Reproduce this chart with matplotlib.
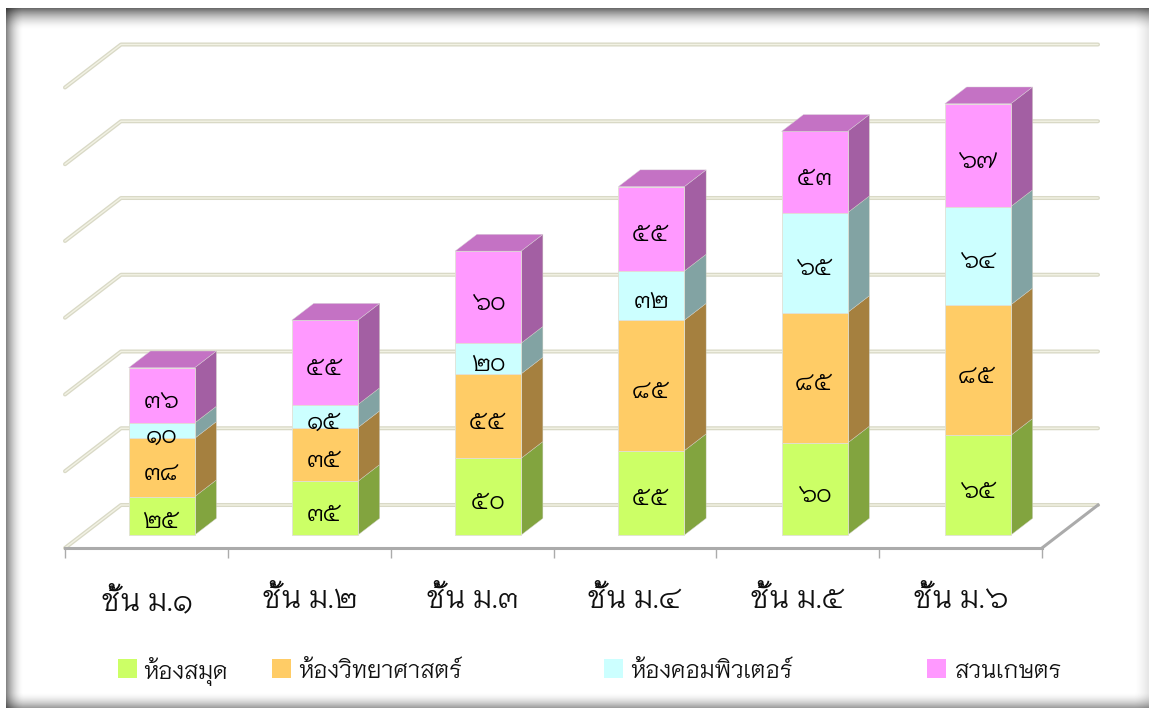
import numpy as np
import matplotlib
matplotlib.use('Agg')
import matplotlib.pyplot as plt
from matplotlib.patches import Polygon, Rectangle

plt.rcParams['font.family'] = ['Niramit', 'Noto Sans Thai Looped', 'DejaVu Sans']
plt.rcParams['font.weight'] = 300

W, H = 1149, 711

# data
categories = ['ชั้น ม.๑', 'ชั้น ม.๒', 'ชั้น ม.๓', 'ชั้น ม.๔', 'ชั้น ม.๕', 'ชั้น ม.๖']
library = [25, 35, 50, 55, 60, 65]
science = [38, 35, 55, 85, 85, 85]
computer = [10, 15, 20, 32, 65, 64]
garden = [36, 55, 60, 55, 53, 67]
series_names = ['ห้องสมุด', 'ห้องวิทยาศาสตร์', 'ห้องคอมพิวเตอร์', 'สวนเกษตร']
series_values = [library, science, computer, garden]
colors = ['#CCFF66', '#FFCC66', '#CCFFFF', '#FF99FF']
sides = ['#82A43F', '#A5803F', '#82A3A3', '#A35FA3']
tops = ['#A3CC52', '#CCA352', '#A3CCCC', '#C472C4']
thai_digits = str.maketrans('0123456789', '๐๑๒๓๔๕๖๗๘๙')

fig = plt.figure(figsize=(W / 100, H / 100), dpi=100, facecolor='white')

# shadow frame behind the chart
bg = fig.add_axes([0, 0, 1, 1], zorder=0)
bg.set_xlim(0, W)
bg.set_ylim(H, 0)
bg.axis('off')
xx, yy = np.meshgrid(np.arange(W) + 0.5, np.arange(H) + 0.5)
fade_l = 1 - 0.50 * np.clip(1 - (xx - 6) / 18.0, 0, 1) ** 1.8
fade_t = 1 - 0.60 * np.clip(1 - (yy - 8) / 22.0, 0, 1) ** 1.8
fade_r = 1 - 0.10 * np.clip(1 - (1148 - xx) / 14.0, 0, 1) ** 1.5
fade_b = 1 - 0.40 * np.clip(1 - (708 - yy) / 16.0, 0, 1) ** 1.8
img = fade_l * fade_t * fade_r * fade_b
inside = (xx > 6) & (yy > 8) & (yy < 708)
img = np.where(inside, img, 1.0)
bg.imshow(img, cmap='gray', vmin=0, vmax=1, extent=(0, W, H, 0), aspect='auto', interpolation='bilinear')

# front plane: value 0 at y=548, 300 at y=87
ax = fig.add_axes([65 / W, (H - 548) / H, 977 / W, 460.5 / H], zorder=1)
ax.set_xlim(0, 6)
ax.set_ylim(0, 300)
ax.patch.set_alpha(0)

# how far the back wall lies from the front plane, in data units
depth_x = 56 / (977 / 6)
depth_y = 43 / (460.5 / 300)


def proj(x, y, d):
    return x + d * depth_x, y + d * depth_y


# walls
for v in range(0, 301, 50):
    x0, y0 = proj(0, v, 0)
    x1, y1 = proj(0, v, 1)
    x2, y2 = proj(6, v, 1)
    for lw, c in [(2.9, '#D9D9C6'), (1.0, '#F2F2E4')]:
        ax.plot([x0, x1, x2], [y0, y1, y2], color=c, lw=lw, clip_on=False,
                solid_capstyle='round', solid_joinstyle='round', zorder=1)

# right side of the floor
x0, y0 = proj(6, 0, 0)
x1, y1 = proj(6, 0, 1)
ax.plot([x0, x1], [y0, y1], color='#ABABAB', lw=2.2, clip_on=False, zorder=1.5)

# stacked boxes
bar_w = 0.405
d0, d1 = 0.30, 0.69
for i in range(len(categories)):
    left = i * 1.0025 + 0.490 - bar_w / 2
    right = left + bar_w
    base = 0
    for k, vals in enumerate(series_values):
        v = vals[i]
        top = base + v
        z = 2 + i + k * 0.1
        fr = [proj(left, base, d0), proj(right, base, d0), proj(right, top, d0), proj(left, top, d0)]
        sd = [proj(right, base, d0), proj(right, base, d1), proj(right, top, d1), proj(right, top, d0)]
        ax.add_patch(Polygon(sd, closed=True, fc=sides[k], ec='#CFCFC4', lw=0.3, clip_on=False, zorder=z))
        ax.add_patch(Polygon(fr, closed=True, fc=colors[k], ec='#E0E0D4', lw=0.6, clip_on=False, zorder=z))
        if k == len(series_values) - 1:
            tp = [proj(left, top, d0), proj(right, top, d0), proj(right, top, d1), proj(left, top, d1)]
            ax.add_patch(Polygon(tp, closed=True, fc=tops[k], ec='#D8D0D8', lw=0.3, clip_on=False, zorder=z))
        cx, cy = proj(left + bar_w / 2, base + v / 2, d0)
        ax.annotate(str(v).translate(thai_digits), (cx, cy), xytext=(0, -4.3), textcoords='offset points',
                    ha='center', va='center', fontsize=17.5, color='black', zorder=z + 0.05,
                    annotation_clip=False)
        base = top

# axis
for s in ['left', 'right', 'top']:
    ax.spines[s].set_visible(False)
ax.spines['bottom'].set_color('#ABABAB')
ax.spines['bottom'].set_linewidth(2.2)
ax.set_yticks([])
ax.set_xticks(np.arange(7))
ax.set_xticklabels([])
ax.tick_params(axis='x', which='major', length=7, width=1, color='#ABABAB')
ax.set_xticks(np.arange(6) + 0.5, categories, minor=True)
ax.tick_params(axis='x', which='minor', length=0, pad=27.5, labelsize=21.7, labelcolor='#101010')

# legend
handle_x = [118, 272, 604, 927]
text_x = [143, 298, 630, 954]
for name, c, hx, tx in zip(series_names, colors, handle_x, text_x):
    fig.patches.append(Rectangle((hx / W, 1 - 678 / H), 19 / W, 19 / H, transform=fig.transFigure, fc=c, ec='none'))
    fig.text(tx / W, 1 - 672 / H, name, fontsize=16.8, va='center', ha='left', color='#101010')

fig.savefig('out.png', dpi=100)
